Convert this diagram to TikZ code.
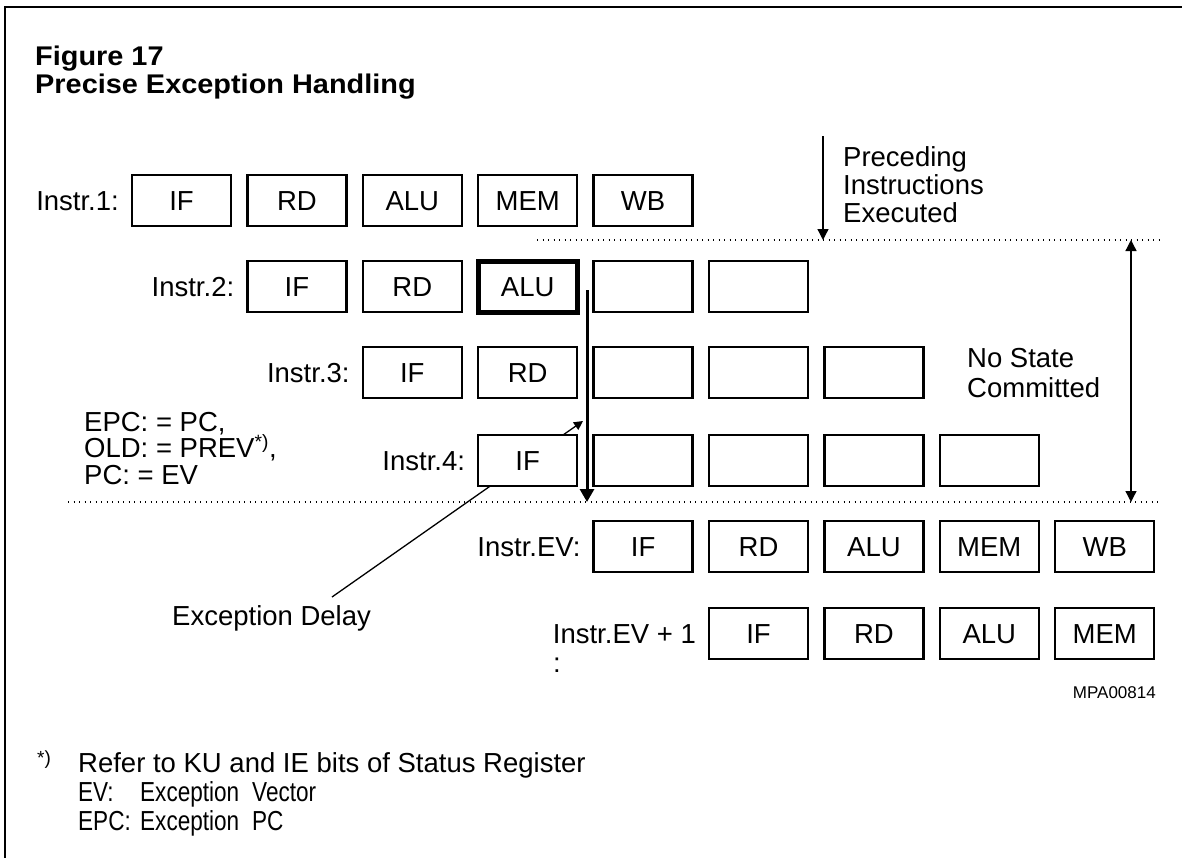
\documentclass[tikz,border=0pt]{standalone}
\usepackage{fontspec}
\usepackage{graphicx}
\setmainfont{Liberation Sans}
\usetikzlibrary{arrows.meta}
\newcommand{\narrowtxt}[1]{\scalebox{0.82}[1]{#1}}
\newcommand{\widetitle}[1]{\scalebox{1.07}[1]{#1}}
\begin{document}
\begin{tikzpicture}[x=1bp,y=-1bp,
  stage/.style={draw, line width=2.4bp, fill=white, minimum width=99bp, minimum height=51bp,
    inner sep=0pt, outer sep=0pt, text height=20bp, text depth=0bp, anchor=north west,
    font=\fontsize{27.5bp}{30bp}\selectfont},
  hot/.style={stage, line width=5bp},
  lbl/.style={anchor=base east, inner sep=0pt, font=\fontsize{27.5bp}{30bp}\selectfont},
  txt/.style={anchor=base west, inner sep=0pt, font=\fontsize{27.5bp}{30bp}\selectfont},
  ttl/.style={anchor=base west, inner sep=0pt, font=\fontsize{27bp}{30bp}\selectfont\bfseries},
  sepline/.style={line width=1.1bp, dash pattern=on 1.3bp off 4.2bp},
  thinarrow/.style={line width=1.3bp, -{Triangle[length=11bp,width=11bp]}},
]
\useasboundingbox (0,0) rectangle (1182,858);

% frame
\coordinate (fb) at (5,858);
\coordinate (fc) at (5,7);
\coordinate (fr) at (1182,7);
\draw[line width=2bp] (fb) -- (fc) -- (fr);

% title
\node[ttl] (t1) at (35,65) {\widetitle{Figure 17}};
\node[ttl] (t2) at (35,93) {\widetitle{Precise Exception Handling}};

% exception delay leader (drawn first, hidden behind boxes)
\coordinate (ldStart) at (332,597);
\coordinate (ldTip) at (583,421);
\draw[line width=1.3bp, -{Triangle[length=9bp,width=9bp]}] (ldStart) -- (ldTip);

% row 1
\node[lbl] (l1) at (119,210.5) {Instr.1:};
\node[stage] (r1a) at (132,175) {IF};
\node[stage] (r1b) at (247.4,175) {RD};
\node[stage] (r1c) at (362.8,175) {ALU};
\node[stage] (r1d) at (478.2,175) {MEM};
\node[stage] (r1e) at (593.6,175) {WB};

% row 2
\node[lbl] (l2) at (234.4,296.5) {Instr.2:};
\node[stage] (r2a) at (247.4,261) {IF};
\node[stage] (r2b) at (362.8,261) {RD};
\node[hot]   (r2c) at (478.2,261) {ALU};
\node[stage] (r2d) at (593.6,261) {};
\node[stage] (r2e) at (709,261) {};

% row 3
\node[lbl] (l3) at (349.8,382.5) {Instr.3:};
\node[stage] (r3a) at (362.8,347) {IF};
\node[stage] (r3b) at (478.2,347) {RD};
\node[stage] (r3c) at (593.6,347) {};
\node[stage] (r3d) at (709,347) {};
\node[stage] (r3e) at (824.4,347) {};

% row 4
\node[lbl] (l4) at (465.2,470.5) {Instr.4:};
\node[stage] (r4a) at (478.2,435) {IF};
\node[stage] (r4b) at (593.6,435) {};
\node[stage] (r4c) at (709,435) {};
\node[stage] (r4d) at (824.4,435) {};
\node[stage] (r4e) at (939.8,435) {};

% row EV
\node[lbl] (l5) at (580.6,556.5) {Instr.EV:};
\node[stage] (r5a) at (593.6,521) {IF};
\node[stage] (r5b) at (709,521) {RD};
\node[stage] (r5c) at (824.4,521) {ALU};
\node[stage] (r5d) at (939.8,521) {MEM};
\node[stage] (r5e) at (1055.2,521) {WB};

% row EV+1
\node[lbl] (l6) at (696,643.5) {Instr.EV + 1};
\node[txt] (l6c) at (553,672) {:};
\node[stage] (r6a) at (709,608) {IF};
\node[stage] (r6b) at (824.4,608) {RD};
\node[stage] (r6c) at (939.8,608) {ALU};
\node[stage] (r6d) at (1055.2,608) {MEM};

% separator lines
\coordinate (dTL) at (537,240);
\coordinate (dTR) at (1160,240);
\coordinate (dBL) at (68,502);
\coordinate (dBR) at (1160,502);
\draw[sepline] (dTL) -- (dTR);
\draw[sepline] (dBL) -- (dBR);

% preceding instructions
\coordinate (pTop) at (823,136);
\coordinate (pEnd) at (823,240);
\draw[thinarrow] (pTop) -- (pEnd);
\node[txt] (p1) at (843,166) {Preceding};
\node[txt] (p2) at (843,194) {Instructions};
\node[txt] (p3) at (843,222) {Executed};

% no state committed
\coordinate (nTop) at (1131,240);
\coordinate (nBot) at (1131,502);
\draw[line width=1.3bp, {Triangle[length=11bp,width=11bp]}-{Triangle[length=11bp,width=11bp]}] (nTop) -- (nBot);
\node[txt] (n1) at (967,367) {No State};
\node[txt] (n2) at (967,397) {Committed};

% exception arrow
\coordinate (eTop) at (587,290);
\coordinate (eBot) at (587,502);
\draw[line width=3bp, -{Triangle[length=13bp,width=14bp]}] (eTop) -- (eBot);

% EPC assignments
\node[txt] (a1) at (84,431) {EPC: = PC,};
\node[txt] (a2) at (84,457) {OLD: = PREV\textsuperscript{*)},};
\node[txt] (a3) at (84,484) {PC: = EV};

% exception delay label
\node[txt] (ed) at (172,625) {Exception Delay};

% code
\node[anchor=base east, inner sep=0pt, font=\fontsize{17bp}{18bp}\selectfont] (code) at (1156,698) {MPA00814};

% legend
\node[anchor=base west, inner sep=0pt, font=\fontsize{19bp}{20bp}\selectfont] (star) at (37,764) {*)};
\node[txt] (g1) at (78,772) {Refer to KU and IE bits of Status Register};
\node[txt] (g2) at (78,801) {\narrowtxt{EV:}};
\node[txt] (g3) at (140,801) {\narrowtxt{Exception}};
\node[txt] (g4) at (252,801) {\narrowtxt{Vector}};
\node[txt] (g5) at (78,830) {\narrowtxt{EPC:}};
\node[txt] (g6) at (140,830) {\narrowtxt{Exception}};
\node[txt] (g7) at (252,830) {\narrowtxt{PC}};
\end{tikzpicture}
\end{document}
